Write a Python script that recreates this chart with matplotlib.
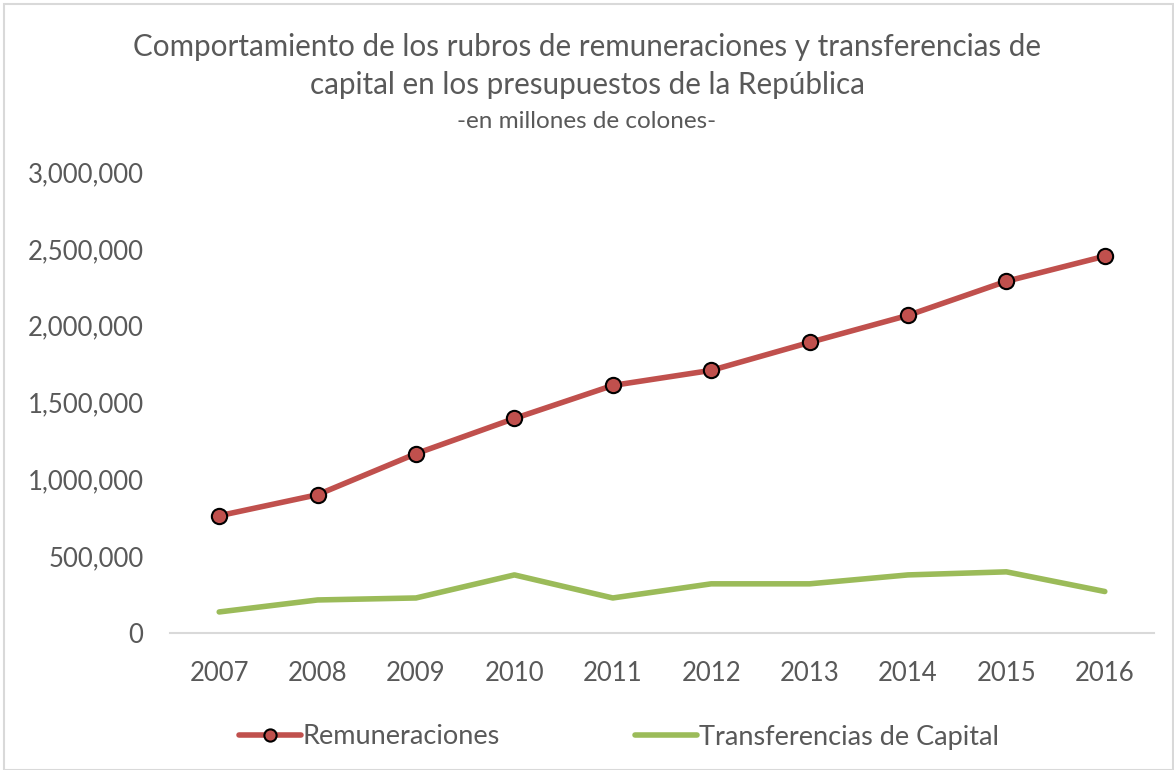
import matplotlib
matplotlib.use("Agg")
import matplotlib.pyplot as plt
from matplotlib.ticker import FuncFormatter
from matplotlib.patches import Rectangle

years = ["2007", "2008", "2009", "2010", "2011", "2012", "2013", "2014", "2015", "2016"]
remuneraciones = [763000, 900000, 1167000, 1396000, 1611000, 1709000, 1891000, 2067000, 2289000, 2452000]
transferencias = [137000, 215000, 228000, 378000, 228000, 320000, 320000, 378000, 398000, 270000]

title = "Comportamiento de los rubros de remuneraciones y transferencias de\ncapital en los presupuestos de la República"
subtitle = "-en millones de colones-"

plt.rcParams['font.family'] = ['Lato', 'DejaVu Sans']
grey = "#595959"
red = "#c0504d"
green = "#9bbb59"

fig = plt.figure(figsize=(11.74, 7.7), dpi=100)
ax = fig.add_axes([170 / 1174, 1 - 633 / 770, (1154 - 170) / 1174, (633 - 172) / 770])

x = range(len(years))
ax.plot(x, remuneraciones, color=red, lw=4, marker='o', markersize=11,
        markerfacecolor=red, markeredgecolor='black', markeredgewidth=1.5,
        label="Remuneraciones", solid_capstyle='round')
ax.plot(x, transferencias, color=green, lw=4, label="Transferencias de Capital",
        solid_capstyle='round')

ax.set_xlim(-0.5, len(years) - 0.5)
ax.set_ylim(0, 3000000)
ax.set_yticks(range(0, 3000001, 500000))
ax.yaxis.set_major_formatter(FuncFormatter(lambda v, p: f"{int(v):,}"))
ax.set_xticks(list(x))
ax.set_xticklabels(years)

for s in ['top', 'right', 'left']:
    ax.spines[s].set_visible(False)
ax.spines['bottom'].set_color('#d9d9d9')
ax.spines['bottom'].set_linewidth(1.5)
ax.tick_params(axis='both', length=0, labelsize=18.5, colors=grey)
ax.tick_params(axis='y', pad=19)
ax.tick_params(axis='x', pad=20)

fig.text(0.5, 1 - 66 / 770, title, ha='center', va='center', fontsize=21.3,
         color=grey, linespacing=1.4)
fig.text(0.5, 1 - 122 / 770, subtitle, ha='center', va='center', fontsize=17.5,
         color=grey)

leg = fig.legend(loc='center', bbox_to_anchor=(0.527, 1 - 737 / 770), ncol=2,
                 frameon=False, fontsize=19.5, handlelength=2.3, columnspacing=5,
                 handletextpad=0.05, labelcolor=grey, markerscale=0.8)

fig.patches.append(Rectangle((4 / 1174, 0), 1 - 5 / 1174, 1 - 4 / 770,
                             transform=fig.transFigure, fill=False,
                             edgecolor='#d9d9d9', lw=1.5))

fig.savefig("out.png", dpi=100)
